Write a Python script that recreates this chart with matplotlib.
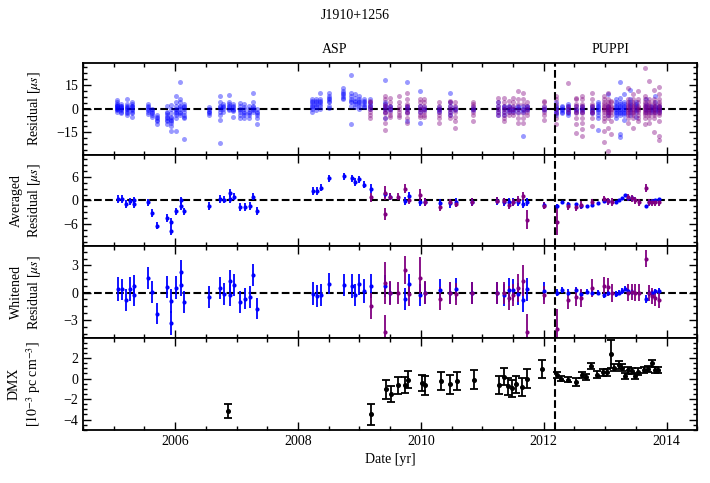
import matplotlib
matplotlib.use("Agg")
import matplotlib.pyplot as plt
from matplotlib.ticker import AutoMinorLocator, MultipleLocator

plt.rcParams['font.family'] = 'serif'
plt.rcParams['font.serif'] = ['Liberation Serif', 'DejaVu Serif']
plt.rcParams['mathtext.fontset'] = 'stix'
plt.rcParams['font.size'] = 10

BLUE = '#0000ff'
PURPLE = '#800080'
SWITCH = 2012.18  # ASP -> PUPPI

# ---- raw residuals (us), grouped by epoch ----
raw_blue = {
    2005.05: [0, 1, 2, 3, -1, -2, 0.5, 4, 1.5, -0.5, 5.5, 2.5],
    2005.12: [0, 1, 2, -1, 3, -2, 1.5, 0.5, -3],
    2005.22: [0, 2, -1, -3, 6, 1, -2, 3, -4, 0.5],
    2005.30: [0, 1, -2, 3, -1, 4, -3, 2, -5, 1.5],
    2005.56: [0, 1, -2, 3, -1, -3.5, 2],
    2005.63: [-1, -2, -3, -4, -5, -0.5],
    2005.70: [-4, -5, -6, -7, -8, -9.5],
    2005.86: [-2, -4, -6, -8, -10, 2, -5, -3, -7],
    2005.93: [-3, -5, -7, -9, -11, -14, 0, 2.5, -6, -8],
    2006.01: [0, -2, -4, 4, 8, -6, -14, 2, -1, -3],
    2006.08: [17, 4, 2, 0, -2, -4, 6, -3, 1],
    2006.14: [0, -2, -4, 2, 3, -6, -19, -5, 1],
    2006.55: [0, -2, -3, 1, -4, -1.5],
    2006.73: [0, 2, 4, 8, -2, -4, -7, 1, -22],
    2006.78: [0, 1, 3, -2, 2],
    2006.88: [0, 2, 4, 8.5, -1, 1, 3],
    2006.94: [0, 2, 1, -1, 3, -5, -1.5],
    2007.05: [0, -2, -4, 2, 3.5, -6, -1],
    2007.12: [0, -2, -3, 1, 3, -6, -4],
    2007.20: [-2, -4, 0, -6, 2, -3],
    2007.27: [0, 2, 4, 10, -2, -1, 1],
    2007.33: [-2, -4, 0, -10, -3, -6],
    2008.22: [0, 2, 4, 6, 1, 3, -2, 5],
    2008.29: [2, 4, 6, 1, 3, 5, -1],
    2008.36: [2, 4, 6, 0, 3, 5, 10],
    2008.50: [4, 6, 8, 10, 2, 5, 7, 0.5],
    2008.74: [6, 8, 10, 13, 7, 9, 11],
    2008.87: [4, 6, 8, 2, 10, 21, 5, -10],
    2008.93: [3, 5, 7, 9, 1, 4],
    2009.00: [2, 4, 6, 8, 3, 5, 0],
    2009.07: [2, 4, 6, 1, 3, 5],
    2009.18: [2, 4, 6, 0, 3, 1],
    2009.42: [0, 2, 4, 18, -2, -6, 1, 3],
    2009.50: [0, 2, -1, 1],
    2009.77: [0, 2, 17, -2, -8, 1],
    2009.99: [0, 11, -9, 2, -2],
    2010.05: [0, 1, -1],
    2010.30: [0, -1, 1, -2],
    2010.48: [0, 10, -2, 2, 4, -4],
    2010.56: [0, -1, 1],
    2010.85: [0, -1, 1],
    2011.25: [0, 2, -2, -4, 4],
    2011.35: [0, -2, 2, -4, 1],
    2011.43: [0, 2, -2, 1, -1],
    2011.50: [0, -1, 1, -2],
    2011.58: [0, 2, -2, 1],
    2011.67: [0, -2, 2, -17, -1],
    2011.73: [0, 1, -1, 2],
    2012.00: [0, -1, 1],
    2012.20: [0, 2, -2, -4, 4, 1, -1, -3],
    2012.30: [0, 2, -2, 1, -1, -3],
    2012.40: [0, -2, 2, -4, 1, -1, -3, 3],
    2012.52: [0, -2, 2, -1],
    2012.62: [0, 2, -2, 1, -1],
    2012.78: [0, 2, -2, 1, -1, -3],
    2012.88: [0, 2, -2, 4, -4, -6, -13.5, 1, -1, 3],
    2013.04: [0, 2, -2, 9, -4, -1, 1],
    2013.18: [0, 2, -2, 4, -4, 1, -1, 3, -3, 6, -6],
    2013.24: [0, 2, -2, 4, -4, 17, -18, 1, -1, 3, -3, -16, 7],
    2013.30: [0, 2, -2, 4, -4, 1, -1, 3, -3, 9, -7],
    2013.40: [0, 2, -2, 4, -4, 1, -1, 3, 6, 12],
    2013.50: [0, 2, -2, 4, 1, -1, 3, -5],
    2013.66: [0, 2, -2, 1, -1, 3, 6],
    2013.74: [0, 2, -2, 1, -1],
    2013.82: [0, 2, -2, 4, 1, -1, 8],
    2013.88: [0, 2, -2, 1, -1],
}
raw_purple = {
    2009.18: [0, 2, -2, 4, -4, -6, 5],
    2009.42: [0, 3, -3, 6, -6, 8, -9, -13.5, 2, -2],
    2009.50: [0, 2, -2, 4, -4, 7, -5],
    2009.64: [0, 2, -2, 4, -4, 8, -5],
    2009.77: [0, 3, -3, 6, -6, 10, -9, 2, -2],
    2009.99: [0, 2, -2, 4, -4, 6, -5],
    2010.05: [0, 2, -2, 4, -4, 6, -5],
    2010.30: [0, 2, -2, -4, 4, -6, -9],
    2010.48: [0, 2, -2, 4, -4, 5, -6],
    2010.56: [0, 2, -2, 4, -5, -8, -12],
    2010.85: [0, 2, -2, 4, -4, -8, 3],
    2011.25: [0, 2, -2, 4, -4, 7],
    2011.36: [0, 2, -2, 4, -4, 7, -8, -6],
    2011.43: [0, 2, -2, -4, 5],
    2011.50: [0, 2, -2, 4, -4, 7],
    2011.58: [0, 3, -3, 6, -6, 11, -9],
    2011.67: [0, 3, -3, 6, -6, 10, -9],
    2011.73: [0, 2, -2, 4, -4],
    2012.00: [0, 2, -2, 4, -4, 5, -7],
    2012.20: [0, 3, -3, 6, -6, 8, -10],
    2012.40: [0, 16.5, -2, 2],
    2012.52: [0, 3, -3, 6, -6, 7, -10, -15.5, 2, -2],
    2012.62: [0, 3, -3, 6, -6, -9, -13, -17, 2, -2, 8],
    2012.78: [0, 3, -3, 6, -6, 10, -11, 2, -2],
    2012.98: [0, 2, -2, 4, -4, 6, -6, 8, -8, -14, -21, 1, -1, 3],
    2013.04: [0, 2, -2, 4, -4, 6, -6, 10, -12, -27, 1, -1, -3, 3],
    2013.10: [0, 2, -2, 4, -4, -8, -16, 5, 1, -1],
    2013.38: [0, 2, -2, 4, -4, 6, -6, 13, -9, 1, -1, 3, -3],
    2013.45: [0, 2, -2, 4, -4, 6, -6, 9, -12, 1, -1, 3, -3],
    2013.53: [0, 2, -2, 4, -4, 6, -6, 11, -8, 1, -1],
    2013.65: [0, 2, -2, 4, -4, 6, -6, 25.5, -10, 1, -1, 3, -3, 8],
    2013.72: [0, 2, -2, 4, -4, 6, -6, 17.5, -9, 1, -1, 3, -3],
    2013.80: [0, 2, -2, 4, -4, 6, -6, 12, -15, 1, -1, 3, -3],
    2013.87: [0, 2, -2, 4, -4, 6, -8, 14, -20, -17, 1, -1, 3, -3, 9],
}

# ---- epoch-averaged / whitened residuals ----
t_blue = [2005.07, 2005.13, 2005.20, 2005.26, 2005.33, 2005.33, 2005.55, 2005.63, 2005.70,
          2005.87, 2005.93, 2005.93, 2006.01, 2006.09, 2006.09, 2006.15, 2006.55, 2006.73,
          2006.80, 2006.89, 2006.89, 2006.95, 2007.06, 2007.14, 2007.21, 2007.27, 2007.34,
          2008.24, 2008.31, 2008.38, 2008.51, 2008.75, 2008.88, 2008.92, 2008.99, 2009.07,
          2009.19, 2009.42, 2009.50, 2009.75, 2009.80, 2009.98, 2010.06, 2010.31, 2010.48,
          2010.57, 2010.84, 2011.24, 2011.36, 2011.43, 2011.50, 2011.58, 2011.66, 2011.73,
          2012.00,
          2012.21, 2012.30, 2012.40, 2012.53, 2012.61, 2012.70, 2012.79, 2012.88, 2012.99,
          2013.04, 2013.17, 2013.22, 2013.27, 2013.33, 2013.38, 2013.44, 2013.66, 2013.71,
          2013.77, 2013.82, 2013.87]
avg_blue = [0.4, 0.4, -0.85, -0.25, 0.0, -0.85, -0.5, -3.1, -6.4,
            -4.4, -5.4, -7.7, -2.8, -1.4, 0.0, -2.8, -1.4, 0.4,
            0.2, 1.9, 0.4, 1.0, -1.7, -1.7, -1.5, 1.0, -2.7,
            2.5, 2.5, 3.2, 5.7, 6.2, 5.7, 4.7, 5.4, 4.0,
            3.0, 1.7, 1.0, -0.1, 1.1, -0.5, -0.5, -0.7, -0.7,
            -0.5, -0.4, -0.1, -0.3, -0.4, -0.4, -0.3, -0.85, -0.3,
            -1.1,
            -1.4, -0.5, -0.85, -0.85, -1.4, -1.4, -1.2, -0.7, -0.25,
            -0.25, -0.5, 0.0, 0.5, 1.4, 0.7, 0.5, -1.5, -0.3,
            -0.1, 0.1, 0.4]
avg_blue_err = [1.0, 1.0, 1.0, 1.0, 1.0, 1.0, 0.8, 1.0, 1.0,
                1.0, 1.0, 1.2, 1.0, 1.0, 1.0, 1.0, 1.0, 1.0,
                0.9, 1.0, 1.0, 0.9, 1.0, 1.0, 1.0, 1.0, 1.0,
                1.0, 1.0, 0.9, 0.9, 0.9, 0.9, 0.9, 0.9, 0.9,
                1.1, 1.0, 0.9, 1.0, 1.0, 1.0, 1.0, 1.0, 1.1,
                1.1, 1.0, 1.0, 1.0, 1.0, 1.0, 1.0, 1.2, 1.0,
                0.8,
                0.4, 0.3, 0.3, 0.3, 0.4, 0.3, 0.3, 0.3, 0.3,
                0.3, 0.3, 0.3, 0.3, 0.3, 0.3, 0.3, 0.4, 0.3,
                0.3, 0.3, 0.3]
wht_blue = [0.4, 0.35, -0.8, 0.4, 0.75, -0.25, 1.6, 0.1, -2.3,
            0.6, -0.9, -3.35, 0.55, 2.25, 0.8, -1.0, -0.45, 0.5,
            -0.15, 1.3, -0.3, 0.8, -1.0, -0.65, -0.45, 1.95, -1.75,
            -0.1, -0.35, -0.3, 1.0, 0.8, 0.7, -0.3, 0.9, 0.15,
            0.7, 0.75, -0.05, -0.7, 0.9, -0.3, 0.0, 0.3, 0.0,
            0.4, 0.0, 0.0, -0.3, 0.3, 0.3, -0.15, -0.8, 0.35,
            0.2,
            0.0, 0.3, 0.0, 0.3, -0.1, 0.1, 0.0, 0.0, -0.25,
            0.0, -0.15, 0.0, 0.2, 0.45, 0.15, 0.1, -0.7, -0.05,
            0.0, 0.15, 0.2]
wht_blue_err = [1.3, 1.2, 1.2, 1.3, 1.2, 1.2, 1.2, 1.2, 1.2,
                1.2, 1.3, 1.3, 1.3, 1.3, 1.2, 1.2, 1.2, 1.2,
                1.2, 1.2, 1.2, 1.2, 1.2, 1.2, 1.2, 1.2, 1.2,
                1.3, 1.2, 1.2, 1.2, 1.2, 1.3, 1.2, 1.2, 1.3,
                1.3, 1.2, 1.2, 1.2, 1.2, 1.2, 1.2, 1.2, 1.2,
                1.2, 1.2, 1.2, 1.2, 1.3, 1.2, 1.2, 1.3, 1.3,
                1.0,
                0.4, 0.3, 0.4, 0.3, 0.4, 0.3, 0.3, 0.3, 0.3,
                0.3, 0.3, 0.3, 0.3, 0.3, 0.3, 0.3, 0.4, 0.3,
                0.3, 0.3, 0.3]

t_purple = [2009.19, 2009.42, 2009.42, 2009.50, 2009.63, 2009.75, 2009.80, 2009.98, 2010.06,
            2010.31, 2010.48, 2010.57, 2010.84, 2011.24, 2011.36, 2011.43, 2011.50, 2011.58,
            2011.66, 2011.73, 2012.00, 2012.21, 2012.40, 2012.53, 2012.61, 2012.79, 2012.99,
            2013.04, 2013.11, 2013.38, 2013.44, 2013.49, 2013.55, 2013.66, 2013.71, 2013.77,
            2013.82, 2013.87]
avg_purple = [0.8, 1.9, -3.5, 1.0, 1.0, 3.0, 0.0, 1.3, -0.5,
              -1.7, -0.5, -0.85, -0.4, -0.1, -0.25, -1.1, -0.5, 0.2,
              1.1, -4.9, -1.4, -5.4, -1.5, -1.7, -1.2, -0.5, 0.3,
              -0.25, -0.5, 0.85, 0.6, 0.0, -0.5, 3.1, -0.5, -0.5,
              -0.5, -0.5]
avg_purple_err = [1.2, 1.8, 1.5, 1.0, 0.9, 1.2, 0.9, 1.5, 1.0,
                  1.0, 0.9, 0.9, 0.9, 0.9, 0.9, 1.0, 0.9, 1.0,
                  1.0, 2.5, 0.9, 3.5, 1.0, 1.0, 1.0, 0.9, 0.9,
                  0.9, 1.0, 0.9, 0.9, 0.9, 0.9, 1.0, 0.9, 0.9,
                  0.9, 0.9]
wht_purple = [-1.45, 1.1, -4.3, -0.05, 0.0, 2.5, -0.2, 1.6, 0.0,
              -0.65, 0.0, -0.15, 0.0, 0.0, 0.0, -0.6, -0.3, 0.5,
              1.3, -4.3, -0.3, -3.95, -0.8, -0.5, -0.6, 0.5, 0.75,
              0.65, -0.05, 0.0, 0.1, 0.0, 0.0, 3.75, -0.05, -0.35,
              -0.6, -0.8]
wht_purple_err = [1.4, 2.3, 1.8, 1.3, 1.2, 1.5, 1.3, 2.3, 1.3,
                  1.3, 1.2, 1.2, 1.2, 1.2, 1.2, 1.3, 1.2, 1.5,
                  1.7, 2.0, 1.0, 2.2, 1.0, 1.0, 1.0, 1.0, 1.0,
                  1.0, 1.0, 0.9, 0.9, 0.9, 0.9, 0.9, 0.9, 0.9,
                  0.9, 0.9]

# ---- DMX (1e-3 pc cm^-3) ----
t_dmx = [2006.86, 2009.19, 2009.43, 2009.51, 2009.63, 2009.75, 2009.79, 2010.02, 2010.07,
         2010.32, 2010.48, 2010.59, 2010.87, 2011.27, 2011.36, 2011.42, 2011.49, 2011.55,
         2011.65, 2011.73, 2011.98, 2012.22, 2012.29, 2012.40, 2012.52, 2012.63, 2012.69,
         2012.77, 2012.87, 2012.96, 2013.03, 2013.09, 2013.15, 2013.22, 2013.27, 2013.33,
         2013.38, 2013.43, 2013.49, 2013.54, 2013.64, 2013.70, 2013.76, 2013.81, 2013.86]
dmx = [-3.18, -3.5, -1.05, -1.48, -0.66, -0.62, -0.1, -0.4, -0.66,
       -0.23, -0.56, -0.23, -0.1, -0.62, 0.2, -0.75, -0.95, -0.56,
       -0.8, 0.0, 0.92, 0.36, 0.0, -0.1, -0.33, 0.36, 0.16,
       1.25, 0.36, 0.6, 0.6, 2.4, 1.08, 1.35, 1.08, 0.26,
       0.82, 0.75, 0.26, 0.69, 0.85, 0.92, 1.48, 0.82, 0.82]
dmx_err = [0.7, 1.05, 0.95, 0.8, 0.85, 0.8, 0.8, 0.8, 0.9,
           0.85, 0.9, 0.85, 0.9, 0.9, 0.85, 0.85, 0.85, 0.85,
           0.85, 0.9, 0.85, 0.3, 0.25, 0.25, 0.35, 0.3, 0.3,
           0.3, 0.35, 0.3, 0.3, 1.35, 0.35, 0.4, 0.35, 0.3,
           0.35, 0.3, 0.3, 0.3, 0.3, 0.3, 0.35, 0.3, 0.3]


def flatten(groups):
    xs, ys = [], []
    for t, vals in groups.items():
        xs += [t] * len(vals)
        ys += vals
    return xs, ys


fig, axes = plt.subplots(4, 1, sharex=True, figsize=(7.1, 4.83), dpi=100)
fig.subplots_adjust(left=0.117, right=0.982, top=0.870, bottom=0.110, hspace=0)
ax0, ax1, ax2, ax3 = axes

bx, by = flatten(raw_blue)
px, py = flatten(raw_purple)
ax0.plot(bx, by, 'o', color=BLUE, ms=3.6, mew=0, alpha=0.4)
ax0.plot(px, py, 'o', color=PURPLE, ms=3.6, mew=0, alpha=0.4)

eb = dict(fmt='o', ms=3.0, mew=0, elinewidth=1.3, capsize=0)
ax1.errorbar(t_blue, avg_blue, yerr=avg_blue_err, color=BLUE, **eb)
ax1.errorbar(t_purple, avg_purple, yerr=avg_purple_err, color=PURPLE, **eb)
ax2.errorbar(t_blue, wht_blue, yerr=wht_blue_err, color=BLUE, **eb)
ax2.errorbar(t_purple, wht_purple, yerr=wht_purple_err, color=PURPLE, **eb)
ax3.errorbar(t_dmx, dmx, yerr=dmx_err, fmt='o', ms=2.6, color='k',
             elinewidth=1.3, capsize=3.2, capthick=1.3)

for ax in axes:
    ax.axvline(SWITCH, color='k', ls='--', lw=1.5)
    ax.tick_params(which='both', direction='in', top=True, right=True, width=1)
    ax.tick_params(which='major', length=6)
    ax.tick_params(which='minor', length=3)
    ax.xaxis.set_minor_locator(AutoMinorLocator(4))
    ax.yaxis.set_minor_locator(AutoMinorLocator(4))
    for s in ax.spines.values():
        s.set_linewidth(1.3)
for ax in axes[:3]:
    ax.axhline(0, color='k', ls='--', lw=1.5, zorder=0.5)

ax0.set_ylim(-29, 29)
ax0.set_yticks([-15, 0, 15])
ax1.set_ylim(-11.7, 11.7)
ax1.set_yticks([-6, 0, 6])
ax2.set_ylim(-5.0, 5.1)
ax2.set_yticks([-3, 0, 3])
ax3.set_ylim(-5.0, 3.95)
ax3.set_yticks([-4, -2, 0, 2])
ax3.set_xlim(2004.5, 2014.5)
ax3.xaxis.set_major_locator(MultipleLocator(2))

ax0.set_ylabel(r'Residual [$\mu s$]')
ax1.set_ylabel('Averaged\n' + r'Residual [$\mu s$]')
ax2.set_ylabel('Whitened\n' + r'Residual [$\mu s$]')
ax3.set_ylabel('DMX\n' + r'[$10^{-3}$ pc cm$^{-3}$]')
for ax in axes:
    ax.yaxis.set_label_coords(-0.066, 0.5)
ax3.set_xlabel('Date [yr]')

ax0.text(2008.6, 1.145, 'ASP', transform=ax0.get_xaxis_transform(), ha='center', va='center')
ax0.text(2013.09, 1.145, 'PUPPI', transform=ax0.get_xaxis_transform(), ha='center', va='center')
fig.text(0.5, 0.967, 'J1910+1256', ha='center', va='center')

fig.savefig('out.png', dpi=100)
